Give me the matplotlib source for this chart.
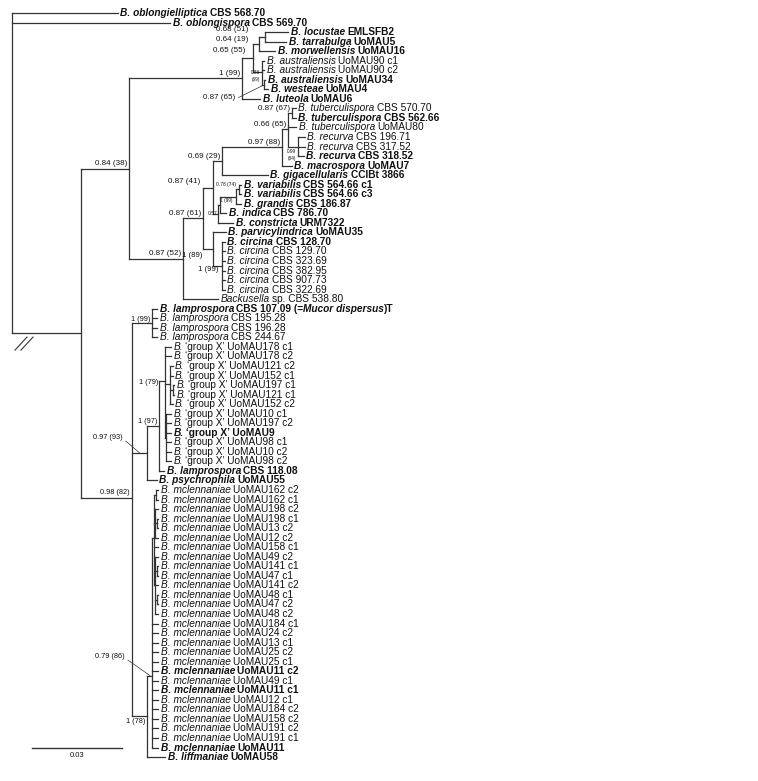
import matplotlib.pyplot as plt

plt.rcParams['font.family'] = ['Liberation Sans', 'DejaVu Sans']

# ---- tip labels, top to bottom (text between * is italic), bold flag ----
UPPER_TIPS = [
    ("*B. oblongielliptica* CBS 568.70", True),
    ("*B. oblongispora* CBS 569.70", True),
    ("*B. locustae* EMLSFB2", True),
    ("*B. tarrabulga* UoMAU5", True),
    ("*B. morwellensis* UoMAU16", True),
    ("*B. australiensis* UoMAU90 c1", False),
    ("*B. australiensis* UoMAU90 c2", False),
    ("*B. australiensis* UoMAU34", True),
    ("*B. westeae* UoMAU4", True),
    ("*B. luteola* UoMAU6", True),
    ("*B. tuberculispora* CBS 570.70", False),
    ("*B. tuberculispora* CBS 562.66", True),
    ("*B. tuberculispora* UoMAU80", False),
    ("*B. recurva* CBS 196.71", False),
    ("*B. recurva* CBS 317.52", False),
    ("*B. recurva* CBS 318.52", True),
    ("*B. macrospora* UoMAU7", True),
    ("*B. gigacellularis* CCIBt 3866", True),
    ("*B. variabilis* CBS 564.66 c1", True),
    ("*B. variabilis* CBS 564.66 c3", True),
    ("*B. grandis* CBS 186.87", True),
    ("*B. indica* CBS 786.70", True),
    ("*B. constricta* URM7322", True),
    ("*B. parvicylindrica* UoMAU35", True),
    ("*B. circina* CBS 128.70", True),
    ("*B. circina* CBS 129.70", False),
    ("*B. circina* CBS 323.69", False),
    ("*B. circina* CBS 382.95", False),
    ("*B. circina* CBS 907.73", False),
    ("*B. circina* CBS 322.69", False),
    ("*Backusella* sp. CBS 538.80", False),
    ("*B. lamprospora* CBS 107.09 (=*Mucor dispersus*)T", True),
    ("*B. lamprospora* CBS 195.28", False),
    ("*B. lamprospora* CBS 196.28", False),
    ("*B. lamprospora* CBS 244.67", False),
]
GROUPX_STRAINS = ["UoMAU178 c1", "UoMAU178 c2", "UoMAU121 c2", "UoMAU152 c1",
                  "UoMAU197 c1", "UoMAU121 c1", "UoMAU152 c2", "UoMAU10 c1",
                  "UoMAU197 c2", "UoMAU9", "UoMAU98 c1", "UoMAU10 c2", "UoMAU98 c2"]
GROUPX_BOLD = ["UoMAU9"]
MIDDLE_TIPS = [
    ("*B. lamprospora* CBS 118.08", True),
    ("*B. psychrophila* UoMAU55", True),
]
MCL_STRAINS = ["UoMAU162 c2", "UoMAU162 c1", "UoMAU198 c2", "UoMAU198 c1",
               "UoMAU13 c2", "UoMAU12 c2", "UoMAU158 c1", "UoMAU49 c2",
               "UoMAU141 c1", "UoMAU47 c1", "UoMAU141 c2", "UoMAU48 c1",
               "UoMAU47 c2", "UoMAU48 c2", "UoMAU184 c1", "UoMAU24 c2",
               "UoMAU13 c1", "UoMAU25 c2", "UoMAU25 c1", "UoMAU11 c2",
               "UoMAU49 c1", "UoMAU11 c1", "UoMAU12 c1", "UoMAU184 c2",
               "UoMAU158 c2", "UoMAU191 c2", "UoMAU191 c1", "UoMAU11"]
MCL_BOLD = ["UoMAU11 c2", "UoMAU11 c1", "UoMAU11"]
LAST_TIPS = [("*B. liffmaniae* UoMAU58", True)]

TIPS = (UPPER_TIPS
        + [("*B.* \u2018group X\u2019 " + s, s in GROUPX_BOLD) for s in GROUPX_STRAINS]
        + MIDDLE_TIPS
        + [("*B. mclennaniae* " + s, s in MCL_BOLD) for s in MCL_STRAINS]
        + LAST_TIPS)

# ---- topology and branch lengths (tips are numbered as in TIPS, from 1) ----
TREE = """
(1:0.0353,2:0.0527,
 ((
   ((((3:0.0077,4:0.0070)a:0.0020,5:0.0053)b:0.0020,
     (6:0.0007,7:0.0007,(8:0.0005,9:0.0015)e:0.0005)z:0.0030)g:0.0037,
    10:0.0060)H:0.0377,
   ((
     (((((11:0.0013,12:0.0013)T:0.0013,13:0.0027,
          (14:0.0023,15:0.0023,16:0.0020)U:0.0033)Q:0.0020,
         17:0.0033)P:0.0200,
        18:0.0153)K:0.0030,
       ((((19:0.0008,20:0.0008)W:0.0010,21:0.0018)V:0.0053,22:0.0020)Y:0.0007,
        23:0.0050)N:0.0017)L:0.0033,
      (24:0.0043,
       (25:0.0010,26:0.0010,27:0.0010,28:0.0010,29:0.0010,30:0.0010)Ci:0.0030)M:0.0033
     )J:0.0067,
    31:0.0117)I:0.0180
  )B:0.0160,
  ((32:0.0017,33:0.0017,34:0.0017,35:0.0017)Lc:0.0067,
   (((36:0.0020,37:0.0020,
      (38:0.0010,39:0.0010,(40:0.0005,41:0.0005)G3:0.0010,42:0.0010)G:0.0015,
      (43:0.0017,44:0.0017,45:0.0017,46:0.0017,47:0.0017,48:0.0017)G2:0.0003)F:0.0020,
     49:0.0017)E:0.0040,
    50:0.0033)D:0.0050,
   ((((51:0.0008,52:0.0008)P1:0.0005,
      (53:0.0010,(54:0.0005,55:0.0005)P3:0.0005,56:0.0010)P2:0.0003,
      57:0.0013,
      (58:0.0010,(59:0.0005,60:0.0005)P5:0.0005,61:0.0010,
       (62:0.0005,63:0.0005)P6:0.0005,64:0.0010)P4:0.0003)O1:0.0007,
     65:0.0020,66:0.0020,67:0.0020,68:0.0020,69:0.0020,70:0.0020,71:0.0020,
     72:0.0020,73:0.0020,74:0.0020,75:0.0020,76:0.0020,77:0.0020,78:0.0020)O:0.0017,
    79:0.0060)M2:0.0050
  )C:0.0170
 )A:0.0230);
"""

SUPPORT = {
    "a": "0.68 (51)", "b": "0.64 (19)", "g": "0.65 (55)", "z": "0.86\n(69)",
    "e": "0.87 (65)", "H": "1 (99)", "T": "0.87 (67)", "Q": "0.66 (65)",
    "U": "0.99\n(84)", "P": "0.97 (88)", "K": "0.69 (29)", "W": "0.78 (74)",
    "V": "1 (99)", "N": "0.57", "L": "0.87 (41)", "J": "0.87 (61)",
    "M": "1 (89)", "Ci": "1 (99)", "I": "0.87 (52)", "B": "0.84 (38)",
    "Lc": "1 (99)", "F": "1 (79)", "E": "1 (97)", "D": "0.97 (93)",
    "C": "0.98 (82)", "O": "0.79 (86)", "M2": "1 (78)",
}
SCALE_LEN = 0.03
BROKEN_NODE = "A"

# ---- layout / style ----
PX = 3000.0       # pixels per substitution unit
ROW = 9.54        # pixels per tip
LINE_COLOR = '#333333'
TEXT_COLOR = '#111111'
TIP_FS = 7.3
SPACE_PX = 2.2

# (fontsize, dx px, dy px) of the support label relative to its node
LABEL_STYLE = {
    "a": (5.8, -17, -7), "b": (5.8, -11, -5), "g": (5.8, -8, -7),
    "z": (3.4, -2, 4.5), "e": (5.8, -28, 13), "U": (3.4, -2, 8),
    "W": (3.6, -3, -4.5), "V": (3.4, -4, 3.5), "N": (3.6, -1, 0),
    "L": (5.8, -13, -6), "M": (5.6, -10, 6), "Ci": (5.6, -3, 3.5),
    "Lc": (5.3, -2, -4), "F": (5.3, -7, 1), "E": (5.3, -2, -5),
    "D": (5.3, -24, -16), "C": (5.3, -2, -5), "O": (5.3, -27, -19),
    "M2": (5.3, -1.5, 5.5),
}
LEADERS = {"e": (-1, 1), "D": (-7, 0), "O": (-2, 0)}


def parse_newick(s):
    s = ''.join(s.split())
    pos = 0

    def node():
        nonlocal pos
        children = []
        if s[pos] == '(':
            pos += 1
            children.append(node())
            while s[pos] == ',':
                pos += 1
                children.append(node())
            pos += 1
        start = pos
        while s[pos] not in ',():;':
            pos += 1
        name = s[start:pos]
        length = 0.0
        if s[pos] == ':':
            pos += 1
            start = pos
            while s[pos] not in ',();':
                pos += 1
            length = float(s[start:pos])
        return {'name': name, 'len': length, 'children': children}

    return node()


def place(n, x0):
    n['x'] = x0 + n['len']
    if n['children']:
        ys = [place(c, n['x']) for c in n['children']]
        n['y'] = sum(ys) / len(ys)
    else:
        n['y'] = float(n['name'])
    return n['y']


def walk(n):
    out = [n]
    for c in n['children']:
        out += walk(c)
    return out


def draw_tip_label(ax, x, y, markup, bold):
    weight = 'bold' if bold else 'normal'
    prev = None
    trailing = False
    for k, part in enumerate(markup.split('*')):
        if not part:
            continue
        gap = SPACE_PX if (trailing or part.startswith(' ')) else 0.0
        kw = dict(fontsize=TIP_FS, fontstyle='italic' if k % 2 else 'normal',
                  fontweight=weight, color=TEXT_COLOR, ha='left')
        if prev is None:
            prev = ax.annotate(part.strip(), xy=(x, y), xytext=(2.5, 0),
                               textcoords='offset pixels', va='center', **kw)
        else:
            prev = ax.annotate(part.strip(), xy=(1, 0), xycoords=prev,
                               xytext=(gap, 0), textcoords='offset pixels',
                               va='bottom', **kw)
        trailing = part.endswith(' ')


tree = parse_newick(TREE)
place(tree, 0.0)
nodes = walk(tree)
by_name = {n['name']: n for n in nodes}

fig = plt.figure(figsize=(7.58, 7.81), dpi=100)
ax = fig.add_axes([0, 0, 1, 1])
ax.set_xlim(-12 / PX, 746 / PX)
ax.set_ylim(1 + (781 - 13) / ROW, 1 - 13 / ROW)
ax.axis('off')

line_kw = dict(color=LINE_COLOR, lw=0.9, solid_capstyle='projecting')
for n in nodes:
    if not n['children']:
        continue
    ys = [c['y'] for c in n['children']]
    ax.plot([n['x'], n['x']], [min(ys), max(ys)], **line_kw)
    for c in n['children']:
        ax.plot([n['x'], c['x']], [c['y'], c['y']], **line_kw)

# broken branch marks
brk = by_name[BROKEN_NODE]
for sx in (0, 6):
    ax.plot([tree['x'] + (3 + sx) / PX, tree['x'] + (15 + sx) / PX],
            [brk['y'] + 17 / ROW, brk['y'] + 4 / ROW],
            color=LINE_COLOR, lw=0.8)

# tip labels
for n in nodes:
    if not n['children']:
        label, bold = TIPS[int(n['name']) - 1]
        draw_tip_label(ax, n['x'], n['y'], label, bold)

# support values
for name, text in SUPPORT.items():
    n = by_name[name]
    size, dx, dy = LABEL_STYLE.get(name, (5.8, -2, -5))
    kw = dict(fontsize=size, color=TEXT_COLOR, ha='right', va='center',
              linespacing=1.5, textcoords='offset pixels')
    if name in LEADERS:
        tdx, tdy = LEADERS[name]
        ax.annotate(text, xy=(n['x'] + tdx / PX, n['y'] + tdy / ROW),
                    xytext=(dx - tdx, -(dy - tdy)),
                    arrowprops=dict(arrowstyle='-', color=LINE_COLOR, lw=0.5,
                                    shrinkA=0, shrinkB=0, relpos=(1, 0.3)),
                    **kw)
    else:
        ax.annotate(text, xy=(n['x'], n['y']), xytext=(dx, -dy), **kw)

# scale bar
bar_y = 78
bar_x0 = 20 / PX
ax.plot([bar_x0, bar_x0 + SCALE_LEN], [bar_y, bar_y], color=LINE_COLOR, lw=1.0)
ax.text(bar_x0 + SCALE_LEN / 2, bar_y + 7.5 / ROW, f"{SCALE_LEN:.2f}",
        fontsize=5.5, color=TEXT_COLOR, ha='center', va='center')

fig.savefig('out.png', dpi=100)
